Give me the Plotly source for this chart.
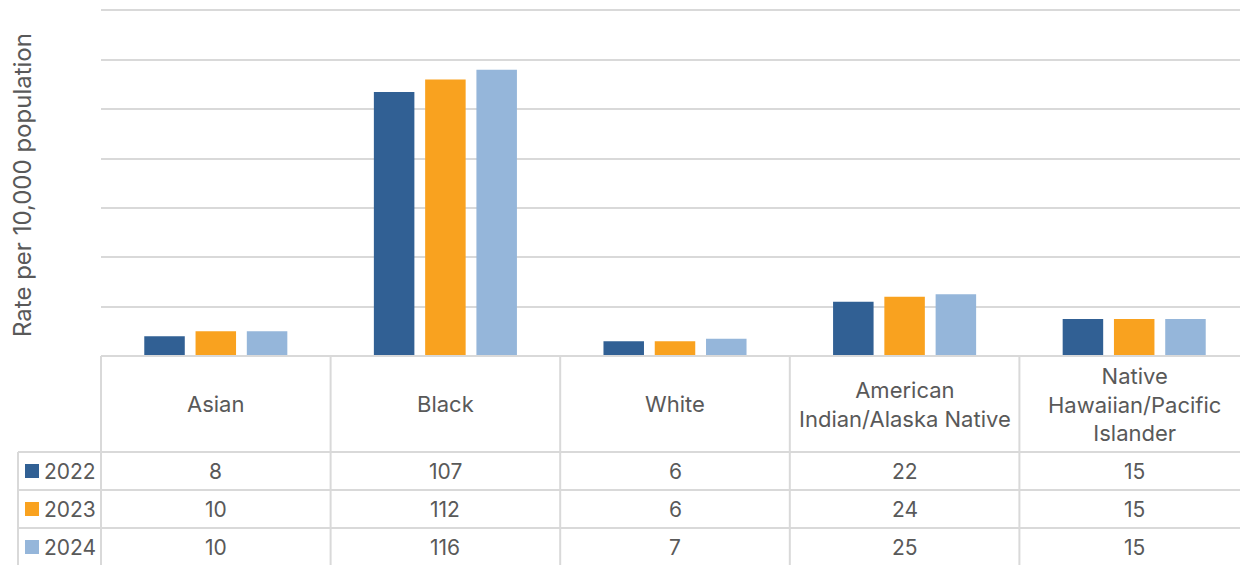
import plotly.graph_objects as go

categories = ["Asian", "Black", "White", "American Indian/Alaska Native",
              "Native Hawaiian/Pacific Islander"]
header_labels = ["Asian", "Black", "White", "American<br>Indian/Alaska Native",
                 "Native<br>Hawaiian/Pacific<br>Islander"]
years = ["2022", "2023", "2024"]
values_2022 = [8, 107, 6, 22, 15]
values_2023 = [10, 112, 6, 24, 15]
values_2024 = [10, 116, 7, 25, 15]
colors = ["#316094", "#F9A21F", "#95B6DA"]

series = [values_2022, values_2023, values_2024]

# the chart is a little wider than the window, like the reference crop
W, H = 1249, 565
L, T, B, R = 101, 8, 209, 0
PW, PH = W - L - R, H - T - B
GRID = "#d9d9d9"
TXT = "#595959"
FONT = "Inter, Arial, sans-serif"
FS = 22


def px_x(p):
    return (p - L) / PW


def px_y(p):
    return (T + PH - p) / PH


fig = go.Figure()
for yr, vals, col in zip(years, series, colors):
    fig.add_trace(go.Bar(x=categories, y=vals, name=yr, marker_color=col,
                         marker_line_width=0, showlegend=False))

shapes = []
annotations = []

# table frame
row_edges = [452, 490, 528, 566]
shapes.append(dict(type="line", xref="paper", yref="paper", x0=0, x1=1,
                   y0=px_y(356), y1=px_y(356), line=dict(color=GRID, width=2)))
for yy in row_edges:
    shapes.append(dict(type="line", xref="paper", yref="paper", x0=px_x(18), x1=1,
                       y0=px_y(yy), y1=px_y(yy), line=dict(color=GRID, width=2)))
shapes.append(dict(type="line", xref="paper", yref="paper", x0=px_x(18), x1=px_x(18),
                   y0=px_y(452), y1=px_y(566), line=dict(color=GRID, width=2)))
for k in range(len(categories)):
    xk = k / len(categories)
    shapes.append(dict(type="line", xref="paper", yref="paper", x0=xk, x1=xk,
                       y0=px_y(356), y1=px_y(566), line=dict(color=GRID, width=2)))

# header labels
for cat, lab in zip(categories, header_labels):
    annotations.append(dict(x=cat, xref="x", y=px_y(404), yref="paper", text=lab,
                            showarrow=False, xanchor="center", yanchor="middle",
                            font=dict(size=FS, color=TXT, family=FONT)))

# data rows
row_centers = [471, 509, 547]
for yr, vals, col, yc in zip(years, series, colors, row_centers):
    shapes.append(dict(type="rect", xref="paper", yref="paper",
                       x0=px_x(25), x1=px_x(39), y0=px_y(yc - 7), y1=px_y(yc + 7),
                       fillcolor=col, line=dict(width=0)))
    annotations.append(dict(x=px_x(42), xref="paper", y=px_y(yc), yref="paper",
                            text=yr, showarrow=False, xanchor="left", yanchor="middle",
                            font=dict(size=FS - 1, color=TXT, family=FONT)))
    for cat, v in zip(categories, vals):
        annotations.append(dict(x=cat, xref="x", y=px_y(yc), yref="paper",
                                text=str(v), showarrow=False, xanchor="center",
                                yanchor="middle",
                                font=dict(size=FS - 1, color=TXT, family=FONT)))

# y axis title
annotations.append(dict(x=px_x(22), xref="paper", y=px_y(185), yref="paper",
                        text="Rate per 10,000 population", textangle=-90,
                        showarrow=False, xanchor="center", yanchor="middle",
                        font=dict(size=24, color=TXT, family=FONT)))

fig.update_layout(
    width=W, height=H,
    margin=dict(l=L, r=R, t=T, b=B),
    paper_bgcolor="white", plot_bgcolor="white",
    barmode="group", bargap=0.33, bargroupgap=0.21,
    font=dict(family=FONT, color=TXT),
    shapes=shapes, annotations=annotations,
)
fig.update_xaxes(showticklabels=False, showgrid=False, zeroline=False,
                 showline=False, ticks="")
fig.update_yaxes(range=[0, 141], dtick=20, showticklabels=False, showgrid=True,
                 gridcolor=GRID, gridwidth=2, zeroline=False, showline=False,
                 ticks="")

fig.write_html("out.html", config={"displayModeBar": False},
               post_script="document.body.style.margin='0';document.body.style.overflow='hidden';")
